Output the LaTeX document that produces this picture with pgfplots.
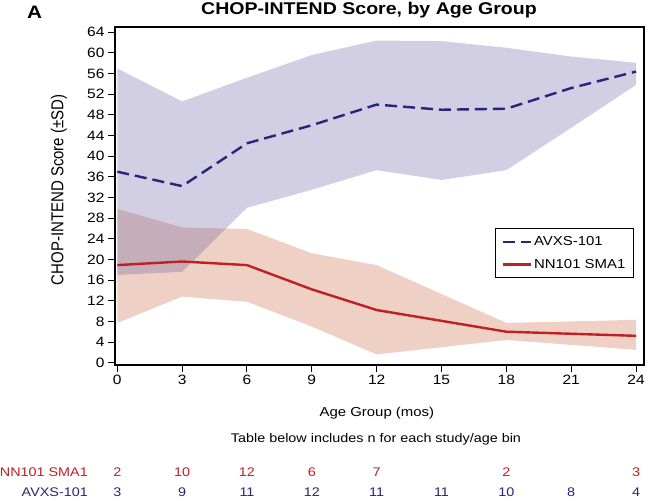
\documentclass[border=0pt]{standalone}
\usepackage{pgfplots}
\pgfplotsset{compat=1.18}
\usepgfplotslibrary{fillbetween}
\usepackage{fontspec}
\setmainfont{Liberation Sans}
\usepackage{graphicx}
\definecolor{avxs}{RGB}{38,38,120}
\definecolor{nn}{RGB}{190,32,35}
\definecolor{avxsfill}{RGB}{115,102,168}
\definecolor{nnfill}{RGB}{238,208,196}
\newcommand{\sx}[1]{\scalebox{1.15}[1]{#1}}
\newcommand{\fs}[1]{\fontsize{#1}{#1}\selectfont}
\begin{document}
\begin{tikzpicture}
\begin{axis}[
  at={(115pt,135pt)}, anchor=south west,
  scale only axis, width=529pt, height=338pt,
  xmin=-0.106, xmax=24.37, ymin=-0.45, ymax=65.03,
  xtick={0,3,...,24}, ytick={0,4,...,64},
  axis line style={line width=1.1pt},
  tick style={black, line width=1pt}, major tick length=7pt, tick align=outside,
  tick pos=left,
  /pgf/number format/assume math mode=true,
  xticklabel={\sx{\pgfmathprintnumber{\tick}}},
  yticklabel={\sx{\pgfmathprintnumber{\tick}}},
  ticklabel style={font=\fs{13.5}},
  xlabel={\sx{Age Group (mos)}},
  xlabel style={at={(axis description cs:0.495,-0.1538)}, anchor=base, font=\fs{13}},
  ylabel={\scalebox{1}[1.15]{CHOP-INTEND Score (±SD)}},
  ylabel style={at={(axis description cs:-0.106,0.518)}, anchor=center, font=\fs{15}},
  legend style={at={(0.981,0.405)}, anchor=north east, draw=black, line width=1pt,
    inner xsep=6pt, inner ysep=6pt, row sep=8pt, font=\fs{13}},
  legend cell align=left,
  legend image code/.code={\draw[#1] (0pt,0pt) -- (28pt,0pt);},
  clip=false,
]
% NN101 band
\addplot[name path=nnU, draw=none, forget plot] coordinates {
 (0,29.8) (3,26.2) (6,25.9) (9,21.2) (12,18.9) (18,7.7) (24,8.3)};
\addplot[name path=nnL, draw=none, forget plot] coordinates {
 (0,7.7) (3,12.8) (6,11.8) (9,7.0) (12,1.6) (18,4.4) (24,2.5)};
\addplot[fill=nnfill, draw=none, forget plot] fill between[of=nnU and nnL];
% AVXS band
\addplot[name path=avU, draw=none, forget plot] coordinates {
 (0,57) (3,50.6) (6,55.2) (9,59.6) (12,62.4) (15,62.3) (18,61) (21,59.3) (24,58.1)};
\addplot[name path=avL, draw=none, forget plot] coordinates {
 (0,17) (3,17.6) (6,30) (9,33.5) (12,37.3) (15,35.4) (18,37.3) (21,45.5) (24,53.8)};
\addplot[fill=avxsfill, fill opacity=0.32, draw=none, forget plot] fill between[of=avU and avL];
% means
\addplot[avxs, line width=2.4pt, dash pattern=on 12pt off 6pt] coordinates {
 (0,37) (3,34.2) (6,42.5) (9,46) (12,50) (15,49) (18,49.2) (21,53.2) (24,56.4)};
\addlegendentry{\sx{AVXS-101}}
\addplot[nn, line width=2.4pt] coordinates {
 (0,18.9) (3,19.6) (6,18.9) (9,14.2) (12,10.2) (18,6.0) (24,5.2)};
\addlegendentry{\sx{NN101 SMA1}}
% n table
\foreach \xx/\nn in {0/2,3/10,6/12,9/6,12/7,18/2,24/3}{
  \edef\tmp{\noexpand\node[anchor=base, text=nn, font=\noexpand\fs{12.5}] at (axis cs:\xx,-22.0) {\noexpand\sx{\nn}};}\tmp}
\foreach \xx/\nn in {0/3,3/9,6/11,9/12,12/11,15/11,18/10,21/8,24/4}{
  \edef\tmp{\noexpand\node[anchor=base, text=avxs, font=\noexpand\fs{12.5}] at (axis cs:\xx,-26.0) {\noexpand\sx{\nn}};}\tmp}
\end{axis}
\node[anchor=base, font=\fs{17}\bfseries] at (369pt,485pt) {\sx{CHOP-INTEND Score, by Age Group}};
\node[anchor=base west, inner sep=0pt, font=\fs{18}\bfseries] at (27pt,481pt) {\sx{A}};
\node[anchor=base, font=\fs{12.5}] at (376pt,57pt) {\sx{Table below includes n for each study/age bin}};
\node[anchor=base east, inner sep=0pt, text=nn, font=\fs{12.5}] at (88pt,23.7pt) {\sx{NN101 SMA1}};
\node[anchor=base east, inner sep=0pt, text=avxs, font=\fs{12.5}] at (88pt,3.0pt) {\sx{AVXS-101}};
\pgfresetboundingbox
\useasboundingbox (0pt,0pt) rectangle (647pt,500pt);
\end{tikzpicture}
\end{document}
